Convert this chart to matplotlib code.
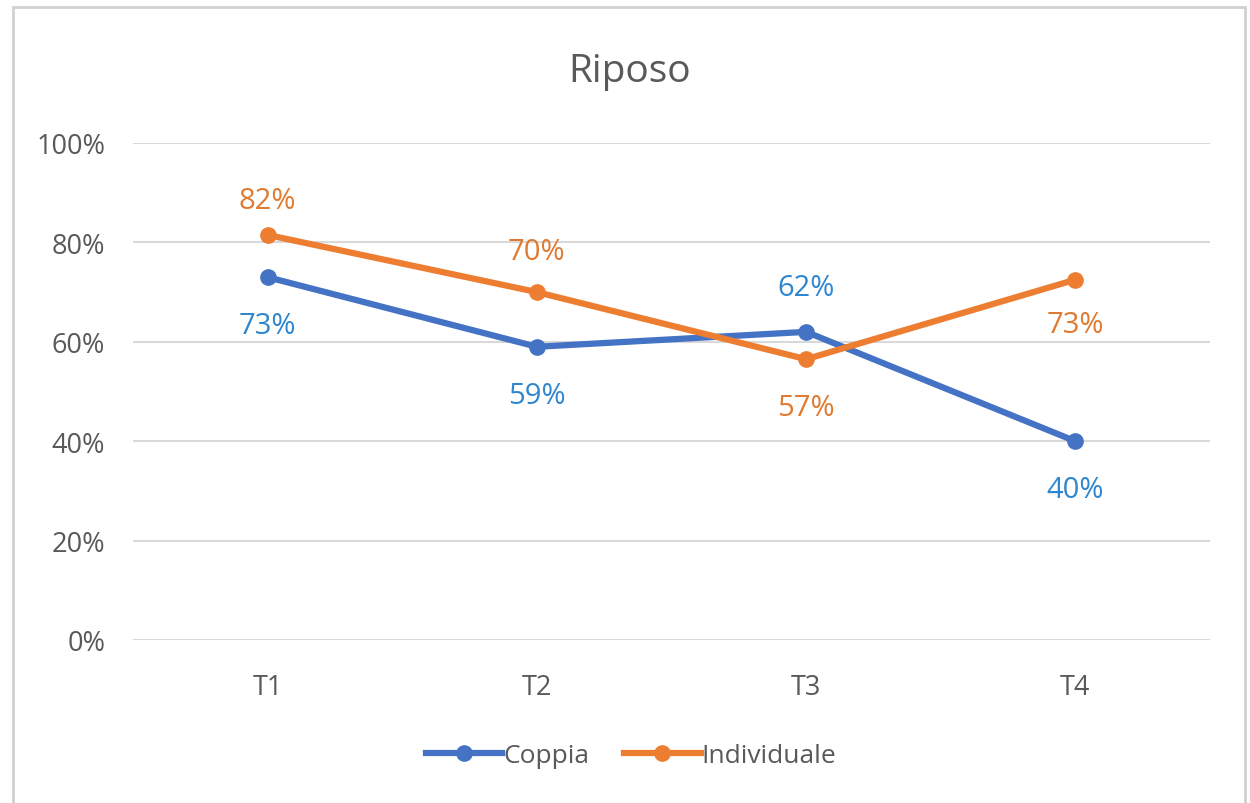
import numpy as np
import matplotlib
matplotlib.use('Agg')
import matplotlib.pyplot as plt
from matplotlib.patches import Rectangle

plt.rcParams['font.family'] = ['Open Sans', 'DejaVu Sans']

categories = ['T1', 'T2', 'T3', 'T4']
coppia = [0.73, 0.59, 0.62, 0.40]
individuale = [0.815, 0.70, 0.565, 0.725]
coppia_labels = ['73%', '59%', '62%', '40%']
individuale_labels = ['82%', '70%', '57%', '73%']
y_ticks = [0, 0.2, 0.4, 0.6, 0.8, 1.0]

# label offsets in points (placement only)
coppia_off = [-35, -35, 32, -35]
individuale_off = [25, 29, -35, -32]

blue = '#4472C4'
orange = '#ED7D31'
blue_txt = '#2E86CF'
orange_txt = '#E07A30'
grey = '#595959'

fig = plt.figure(figsize=(12.5, 8.04), dpi=100)
fig.patches.append(Rectangle((13/1250, -0.01), (1245-13)/1250, (804-8)/804 + 0.01,
                             transform=fig.transFigure, fill=False,
                             edgecolor='#D0D0D0', linewidth=2))
ax = fig.add_axes([133/1250, 1-641/804, (1210-133)/1250, (641-144)/804])

x = np.arange(len(categories))
ax.plot(x, coppia, color=blue, lw=4.5, marker='o', ms=11, label='Coppia', zorder=3)
ax.plot(x, individuale, color=orange, lw=4.5, marker='o', ms=11, label='Individuale', zorder=3)

for i in range(len(categories)):
    ax.annotate(coppia_labels[i], (x[i], coppia[i]), xytext=(0, coppia_off[i]),
                textcoords='offset points', ha='center', va='center',
                fontsize=21, color=blue_txt)
    ax.annotate(individuale_labels[i], (x[i], individuale[i]), xytext=(0, individuale_off[i]),
                textcoords='offset points', ha='center', va='center',
                fontsize=21, color=orange_txt)

ax.set_xlim(-0.5, len(categories) - 0.5)
ax.set_ylim(0, 1)
ax.set_yticks(y_ticks)
ax.set_yticklabels(['%d%%' % round(v * 100) for v in y_ticks])
ax.set_xticks(x)
ax.set_xticklabels(categories)
ax.tick_params(axis='both', length=0, labelsize=19.5, colors=grey)
ax.tick_params(axis='y', pad=20)
ax.tick_params(axis='x', pad=24)
ax.grid(axis='y', color='#D9D9D9', lw=1.5)
ax.set_axisbelow(True)
for s in ax.spines.values():
    s.set_visible(False)

fig.text(0.504, 1 - 72/804, 'Riposo', ha='center', va='center', fontsize=28, color=grey)

leg = fig.legend(loc='center', bbox_to_anchor=(0.505, 1 - 757/804), ncol=2, frameon=False,
                 fontsize=19, handlelength=2.9, handletextpad=0.05, columnspacing=1.3,
                 labelcolor=grey)

fig.savefig('out.png', dpi=100, facecolor='white')
